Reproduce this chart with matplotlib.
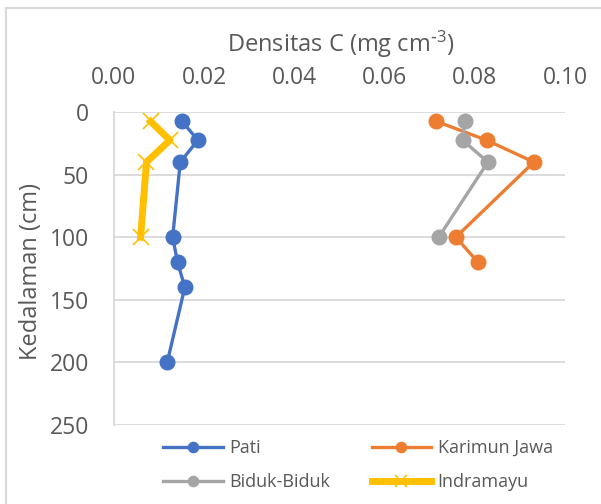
import matplotlib
matplotlib.use("Agg")
import matplotlib.pyplot as plt
from matplotlib.patches import Rectangle

plt.rcParams['font.family'] = ['Open Sans', 'DejaVu Sans']

# Data
pati_depth = [7.5, 22.5, 40, 100, 120, 140, 200]
pati_c = [0.0151, 0.0186, 0.0147, 0.0130, 0.0141, 0.0157, 0.0118]

kj_depth = [7.5, 22.5, 40, 100, 120]
kj_c = [0.0715, 0.0826, 0.0931, 0.0758, 0.0807]

bb_depth = [7.5, 22.5, 40, 100]
bb_c = [0.0778, 0.0773, 0.0829, 0.0720]

ind_depth = [7.5, 22.5, 40, 100]
ind_c = [0.0081, 0.0124, 0.0072, 0.0059]

xticks = [0.00, 0.02, 0.04, 0.06, 0.08, 0.10]
xticklabels = ['0.00', '0.02', '0.04', '0.06', '0.08', '0.10']
yticks = [0, 50, 100, 150, 200, 250]

W, H = 601, 504
fig = plt.figure(figsize=(W / 100, H / 100), dpi=100)
ax = fig.add_axes([114 / W, 1 - 425 / H, (565 - 114) / W, (425 - 112) / H])

grey_txt = '#595959'
grid_c = '#d9d9d9'

l_pati, = ax.plot(pati_c, pati_depth, color='#4472C4', lw=2.4, marker='o', ms=10.5, zorder=3)
l_kj, = ax.plot(kj_c, kj_depth, color='#ED7D31', lw=2.4, marker='o', ms=10.5, zorder=3)
l_bb, = ax.plot(bb_c, bb_depth, color='#A5A5A5', lw=2.4, marker='o', ms=10.5, zorder=3)
l_ind, = ax.plot(ind_c, ind_depth, color='#FFC000', lw=5, marker='x', ms=12, mew=1.2, zorder=3)

ax.set_xlim(0, 0.10)
ax.set_ylim(250, 0)
ax.set_xticks(xticks)
ax.set_xticklabels(xticklabels)
ax.set_yticks(yticks)
ax.xaxis.tick_top()
ax.tick_params(axis='both', length=0, labelsize=16.5, colors=grey_txt)
ax.tick_params(axis='x', pad=16)
ax.tick_params(axis='y', pad=18)
ax.grid(axis='y', color=grid_c, lw=1.3)
ax.set_axisbelow(True)
for s in ['top', 'right', 'bottom']:
    ax.spines[s].set_visible(False)
ax.spines['left'].set_color(grid_c)
ax.spines['left'].set_linewidth(1.3)

fig.text(341 / W, 1 - 44 / H, 'Densitas C (mg cm$\\mathregular{^{\\text{-}3}}$)',
         ha='center', va='center', fontsize=17, color=grey_txt)
fig.text(31 / W, 1 - 271 / H, 'Kedalaman (cm)', rotation=90,
         ha='center', va='center', fontsize=17, color=grey_txt)

leg = fig.legend([l_pati, l_bb, l_kj, l_ind],
                 ['Pati', 'Biduk-Biduk', 'Karimun Jawa', 'Indramayu'],
                 ncol=2, loc='center', bbox_to_anchor=(358 / W, 1 - 465 / H),
                 frameon=False, fontsize=13, handlelength=3.3, handletextpad=0.35,
                 columnspacing=2.3, labelspacing=0.9, markerscale=0.7)
for t in leg.get_texts():
    t.set_color(grey_txt)

fig.add_artist(Rectangle((6 / W, -0.1), 1.2, (1 - 8 / H) + 0.1, transform=fig.transFigure,
                         fill=False, edgecolor=grid_c, lw=1.5))

fig.savefig('out.png', dpi=100)
